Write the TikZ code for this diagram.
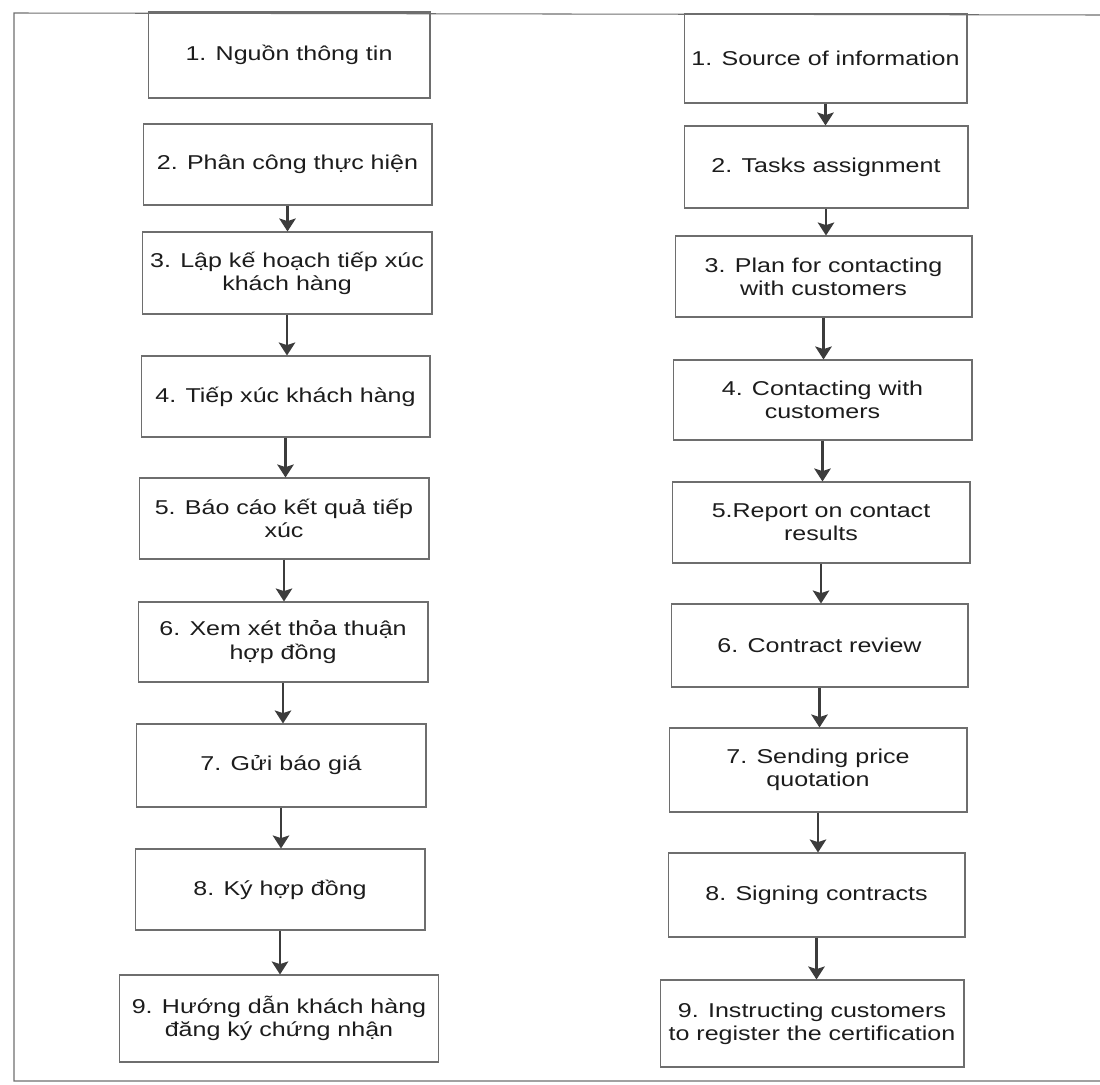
\documentclass[tikz,border=0pt]{standalone}
\usepackage{fontspec}
\setmainfont{Liberation Sans}[FakeStretch=1.25]
\usepackage{tikz}
\usetikzlibrary{arrows.meta,positioning,calc}
\definecolor{boxgray}{RGB}{110,110,110}
\definecolor{arrgray}{RGB}{60,60,60}
\definecolor{txtgray}{RGB}{28,28,28}
\tikzset{
  stepbox/.style={draw=boxgray, line width=0.6pt, inner sep=2pt, align=center, text=txtgray,
    font=\fontsize{11.4}{13.2}\selectfont},
  arr/.style={-{Stealth[width=9.4pt,length=7.4pt,inset=1.5pt]}, arrgray, line width=1.2pt},
  frame/.style={draw=boxgray, line width=0.6pt},
}
\begin{document}
\begin{tikzpicture}[x=0.02cm, y=-0.02cm]
  \useasboundingbox (0,0) rectangle (1100,1085);
  % outer frame
  \draw[frame] (1100,15) -- (14,13) -- (14,1081) -- (1100,1081);

  % Vietnamese column
  \node[stepbox, minimum width=5.64cm, minimum height=1.72cm] (vn1) at (289,55) {1. Nguồn thông tin};
  \node[stepbox, minimum width=5.78cm, minimum height=1.62cm] (vn2) at (287.5,164.5) {2. Phân công thực hiện};
  \node[stepbox, minimum width=5.80cm, minimum height=1.64cm] (vn3) at (287,273) {3. Lập kế hoạch tiếp xúc\\khách hàng};
  \node[stepbox, minimum width=5.78cm, minimum height=1.62cm] (vn4) at (285.5,396.5) {4. Tiếp xúc khách hàng};
  \node[stepbox, minimum width=5.80cm, minimum height=1.62cm] (vn5) at (284,518.5) {5. Báo cáo kết quả tiếp\\xúc};
  \node[stepbox, minimum width=5.80cm, minimum height=1.60cm] (vn6) at (283,642) {6. Xem xét thỏa thuận\\hợp đồng};
  \node[stepbox, minimum width=5.80cm, minimum height=1.66cm] (vn7) at (281,765.5) {7. Gửi báo giá};
  \node[stepbox, minimum width=5.80cm, minimum height=1.62cm] (vn8) at (280,889.5) {8. Ký hợp đồng};
  \node[stepbox, minimum width=6.40cm, minimum height=1.74cm] (vn9) at (279,1018.5) {9. Hướng dẫn khách hàng\\đăng ký chứng nhận};

  \draw[arr] (vn2.south) -- (vn2.south |- vn3.north);
  \draw[arr] (vn3.south) -- (vn3.south |- vn4.north);
  \draw[arr] (vn4.south) -- (vn4.south |- vn5.north);
  \draw[arr] (vn5.south) -- (vn5.south |- vn6.north);
  \draw[arr] (vn6.south) -- (vn6.south |- vn7.north);
  \draw[arr] (vn7.south) -- (vn7.south |- vn8.north);
  \draw[arr] (vn8.south) -- (vn8.south |- vn9.north);

  % English column
  \node[stepbox, minimum width=5.66cm, minimum height=1.78cm] (en1) at (825.5,58.5) {1. Source of information};
  \node[stepbox, minimum width=5.68cm, minimum height=1.64cm] (en2) at (826,167) {2. Tasks assignment};
  \node[stepbox, minimum width=5.94cm, minimum height=1.62cm] (en3) at (823.5,276.5) {3. Plan for contacting\\with customers};
  \node[stepbox, minimum width=5.98cm, minimum height=1.60cm] (en4) at (822.5,400) {4. Contacting with\\customers};
  \node[stepbox, minimum width=5.96cm, minimum height=1.62cm] (en5) at (821,522.5) {5.Report on contact\\results};
  \node[stepbox, minimum width=5.94cm, minimum height=1.66cm] (en6) at (819.5,645.5) {6. Contract review};
  \node[stepbox, minimum width=5.96cm, minimum height=1.68cm] (en7) at (818,770) {7. Sending price\\quotation};
  \node[stepbox, minimum width=5.94cm, minimum height=1.68cm] (en8) at (816.5,895) {8. Signing contracts};
  \node[stepbox, minimum width=6.08cm, minimum height=1.74cm] (en9) at (812,1023.5) {9. Instructing customers\\to register the certification};

  \draw[arr] (en1.south) -- (en1.south |- en2.north);
  \draw[arr] (en2.south) -- (en2.south |- en3.north);
  \draw[arr] (en3.south) -- (en3.south |- en4.north);
  \draw[arr] (en4.south) -- (en4.south |- en5.north);
  \draw[arr] (en5.south) -- (en5.south |- en6.north);
  \draw[arr] (en6.south) -- (en6.south |- en7.north);
  \draw[arr] (en7.south) -- (en7.south |- en8.north);
  \draw[arr] (en8.south) -- (en8.south |- en9.north);
\end{tikzpicture}
\end{document}
